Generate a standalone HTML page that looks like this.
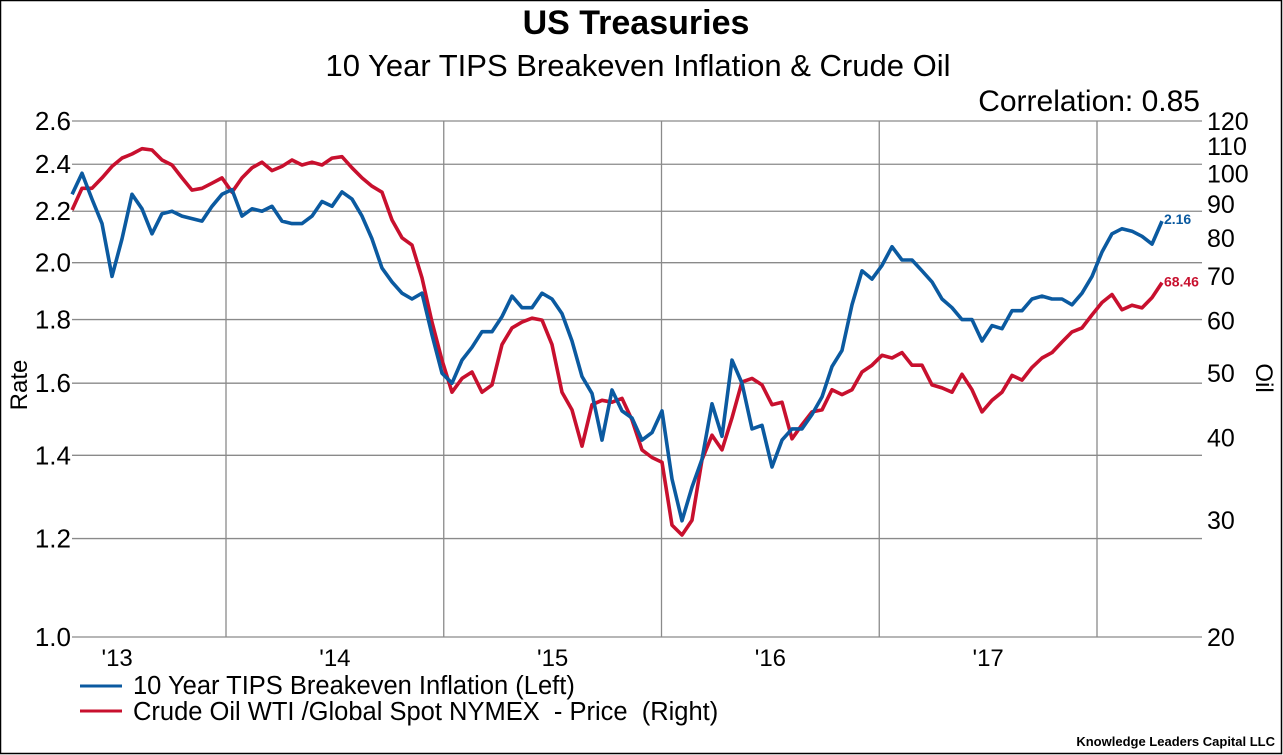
<!DOCTYPE html>
<html><head><meta charset="utf-8">
<style>
html,body{margin:0;padding:0;background:#fff;}
svg{display:block;font-family:"Liberation Sans",Arial,sans-serif;}
</style></head>
<body>
<svg id="chart" width="1283" height="755" viewBox="0 0 1283 755">
<rect x="0.5" y="0.5" width="1281" height="753" fill="#fff" stroke="#000" stroke-width="1.5"/>
<text x="636" y="34" text-anchor="middle" font-size="34" font-weight="bold">US Treasuries</text>
<text x="638" y="76" text-anchor="middle" font-size="31">10 Year TIPS Breakeven Inflation &amp; Crude Oil</text>
<text x="1200" y="111" text-anchor="end" font-size="30">Correlation: 0.85</text>
<g id="grid"></g>
<g id="axes"></g>
<g id="series"></g>
<text transform="translate(27,385) rotate(-90)" text-anchor="middle" font-size="24">Rate</text>
<text transform="translate(1256,378) rotate(90)" text-anchor="middle" font-size="24">Oil</text>
<g>
<line x1="80" y1="686" x2="122" y2="686" stroke="#0b5aa0" stroke-width="3"/>
<text x="133" y="694" font-size="25.5">10 Year TIPS Breakeven Inflation (Left)</text>
<line x1="80" y1="711" x2="122" y2="711" stroke="#c8102e" stroke-width="3"/>
<text x="133" y="720" font-size="25.5" style="white-space:pre">Crude Oil WTI /Global Spot NYMEX  - Price  (Right)</text>
</g>
<text x="1275" y="746" text-anchor="end" font-size="13" font-weight="bold">Knowledge Leaders Capital LLC</text>
</svg>
<script>
const NS='http://www.w3.org/2000/svg';
const startYear=2013.293, stepYear=0.04592;
const tipsValues=[2.27,2.36,2.25,2.15,1.95,2.09,2.27,2.21,2.11,2.19,2.20,2.18,2.17,2.16,2.22,2.27,2.29,2.18,2.21,2.20,2.22,2.16,2.15,2.15,2.18,2.24,2.22,2.28,2.25,2.18,2.09,1.98,1.93,1.89,1.87,1.89,1.75,1.63,1.60,1.67,1.71,1.76,1.76,1.81,1.88,1.84,1.84,1.89,1.87,1.82,1.73,1.62,1.57,1.44,1.58,1.52,1.50,1.44,1.46,1.52,1.34,1.24,1.32,1.39,1.54,1.45,1.67,1.60,1.47,1.48,1.37,1.44,1.47,1.47,1.51,1.56,1.65,1.70,1.85,1.97,1.94,1.99,2.06,2.01,2.01,1.97,1.93,1.87,1.84,1.80,1.80,1.73,1.78,1.77,1.83,1.83,1.87,1.88,1.87,1.87,1.85,1.89,1.95,2.04,2.11,2.13,2.12,2.10,2.07,2.16];
const oilValues=[88.1,95,95,98.5,102.5,105.5,107,109,108.5,104.8,103,98.5,94.4,95,96.7,98.5,93.7,98.5,102,104,101,102.5,104.8,103,104,103,105.5,106,102,98.5,95.7,93.7,85.1,80,78,69.6,59.7,52.3,46.8,49.1,50.2,46.8,48,55.2,58.5,59.7,60.5,60.1,55.2,46.8,44,38.8,44.8,45.5,45.2,45.8,42.5,38.3,37.3,36.7,29.5,28.5,30,37,40.3,38.3,42.8,48.5,49.1,48,44.8,45.2,39.8,41.8,43.7,44,47.2,46.4,47.2,50.2,51.4,53.2,52.7,53.7,51.4,51.4,48,47.5,46.8,49.8,47.2,43.7,45.5,46.8,49.6,48.8,51,52.7,53.7,55.7,57.7,58.5,61.2,63.9,65.7,62.3,63.3,62.7,65,68.46];
const leftTicks=[1.0,1.2,1.4,1.6,1.8,2.0,2.2,2.4,2.6];
const rightTicks=[20,30,40,50,60,70,80,90,100,110,120];
const yearBoundaries=[2014,2015,2016,2017,2018];
const yearLabels=["'13","'14","'15","'16","'17"];
const yearLabelPos=[2013.5,2014.5,2015.5,2016.5,2017.5];

const PL=72,PR=1202,PT=121,PB=637;
function xScale(t){return 226+(t-2014)*217.75;}
function yLeft(v){return PB-(PB-PT)*Math.log(v/1.0)/Math.log(2.6);}
function yRight(v){return PB-(PB-PT)*Math.log(v/20)/Math.log(6);}

const grid=document.getElementById('grid'),axes=document.getElementById('axes'),series=document.getElementById('series');
function mk(tag,attrs,parent){const e=document.createElementNS(NS,tag);for(const k in attrs)e.setAttribute(k,attrs[k]);parent.appendChild(e);return e;}

leftTicks.forEach(v=>{
  const y=yLeft(v);
  const g=mk('line',{x1:PL,x2:PR,y1:y,y2:y,stroke:'#8a8a8a','stroke-width':1.3},grid);
  
  
  const t=mk('text',{x:PL-1,y:y+9,'text-anchor':'end','font-size':26},axes);
  t.textContent=v.toFixed(1);
  
  
});
rightTicks.forEach(v=>{
  const y=yRight(v);
  const t=mk('text',{x:PR+5,y:y+9,'font-size':25},axes);
  t.textContent=v;
  
  
});
yearBoundaries.forEach(yr=>{
  const x=xScale(yr);
  const g=mk('line',{x1:x,x2:x,y1:PT,y2:PB,stroke:'#8a8a8a','stroke-width':1.3},grid);
  
  
});
yearLabels.forEach((l,i)=>{
  const t=mk('text',{x:xScale(yearLabelPos[i]),y:666,'text-anchor':'middle','font-size':24},axes);
  t.textContent=l;
  
  
});

function drawLine(vals,yf,color,name){
  const pts=vals.map((v,i)=>xScale(startYear+i*stepYear).toFixed(1)+','+yf(v).toFixed(1)).join(' ');
  const p=mk('polyline',{points:pts,fill:'none',stroke:color,'stroke-width':3.6,'stroke-linejoin':'round'},series);
  
  
}
drawLine(oilValues,yRight,'#c8102e','oil-line');
drawLine(tipsValues,yLeft,'#0b5aa0','tips-line');

const lastI=tipsValues.length-1;
const lx=xScale(startYear+lastI*stepYear)+2;
const e1=mk('text',{x:lx,y:yLeft(tipsValues[lastI])+3,'font-size':14,'font-weight':'bold',fill:'#0b5aa0'},series);
e1.textContent=tipsValues[lastI].toFixed(2);


const e2=mk('text',{x:lx,y:yRight(oilValues[lastI])+4,'font-size':14,'font-weight':'bold',fill:'#c8102e'},series);
e2.textContent=oilValues[lastI].toFixed(2);


</script>
</body></html>
